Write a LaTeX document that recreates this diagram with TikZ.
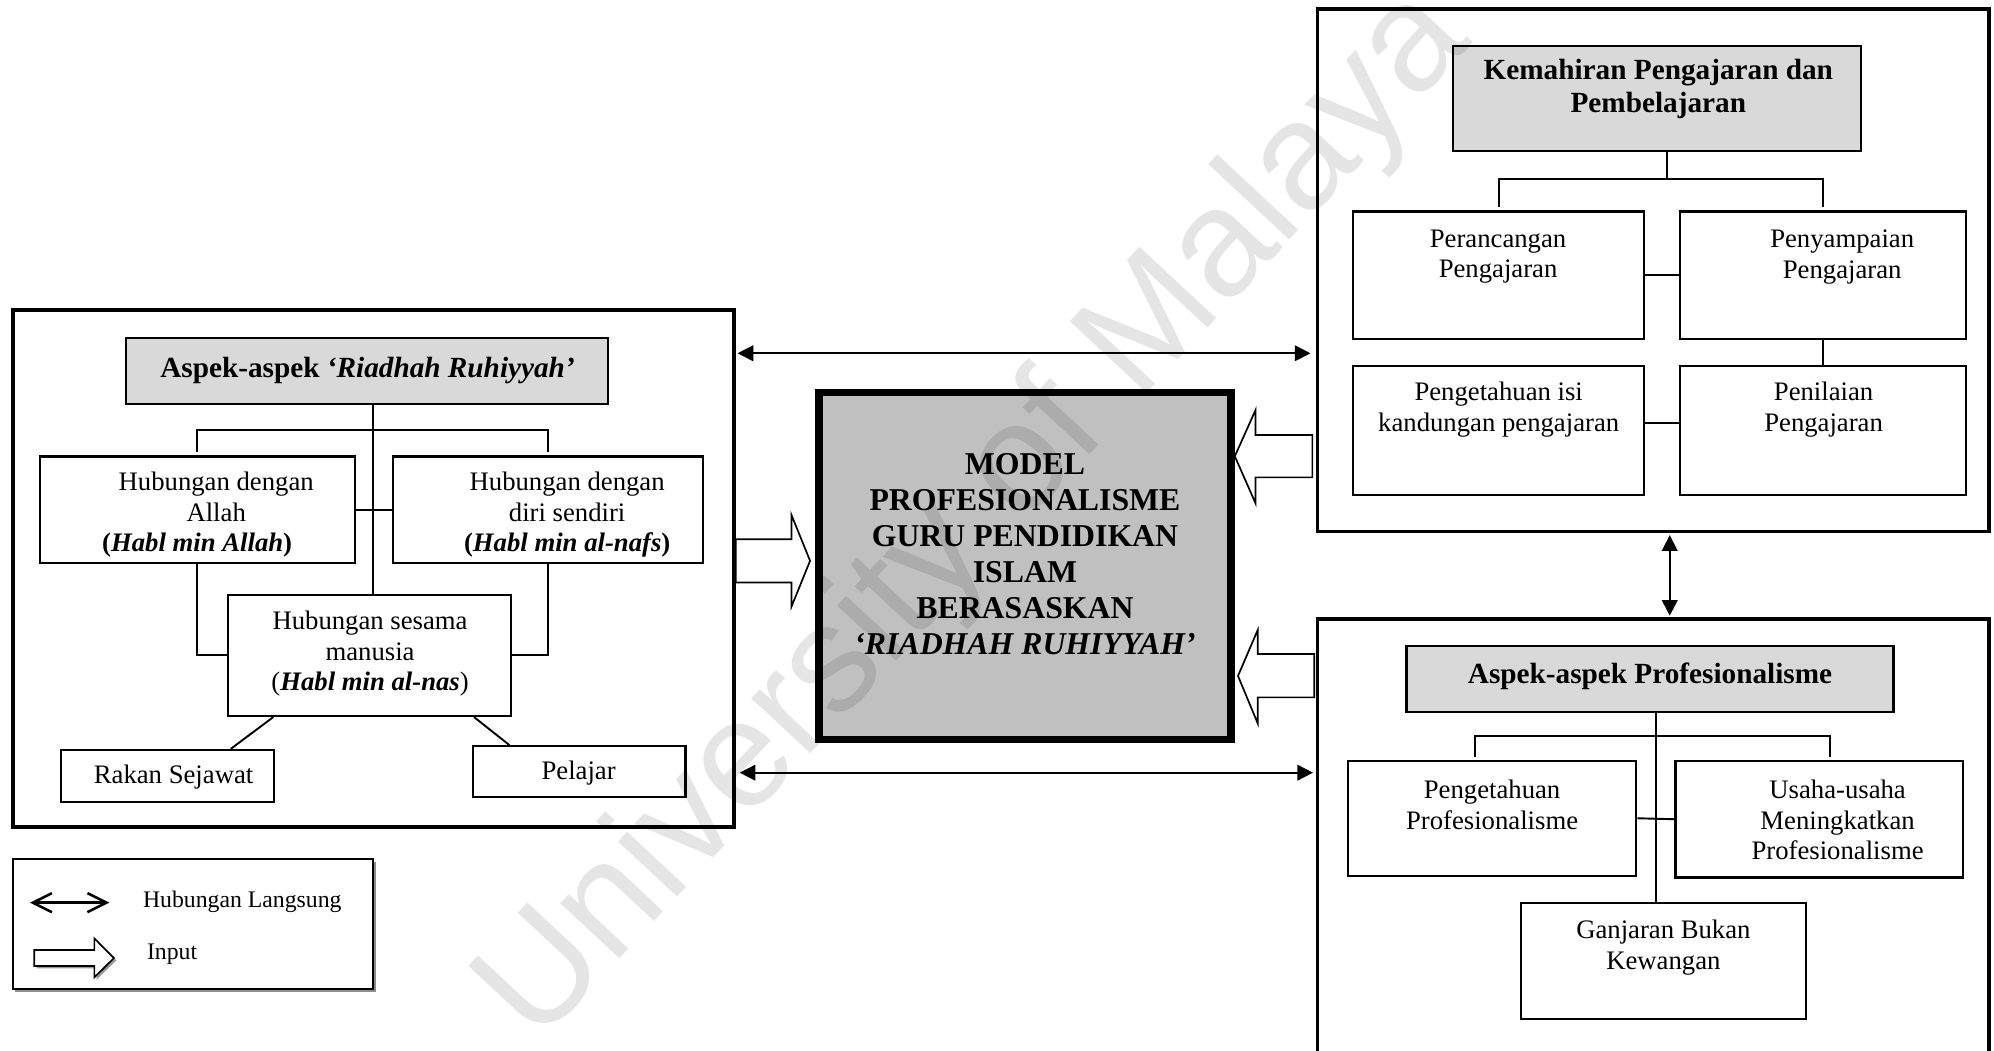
\documentclass[tikz,border=0pt]{standalone}
\usepackage{fontspec}
\setmainfont{Liberation Serif}
\newfontfamily\wmfont{Liberation Sans}
\usetikzlibrary{fit,calc,arrows.meta,shadows}

\definecolor{headgray}{HTML}{D9D9D9}
\definecolor{coregray}{HTML}{C0C0C0}

\newcommand\bodyfont{\fontsize{12.6pt}{14.4pt}\selectfont}
\newcommand\headfont{\fontsize{13.8pt}{15.4pt}\selectfont\bfseries}
\newcommand\corefont{\fontsize{15pt}{17pt}\selectfont\bfseries}
\newcommand\legfont{\fontsize{11.2pt}{13pt}\selectfont}

\tikzset{
  panel/.style={draw, line width=1.8pt, fill=white, inner sep=0pt, fit={#1}},
  headbox/.style={draw, line width=1pt, fill=headgray, inner sep=0pt, fit={#1}},
  itembox/.style={draw, line width=1pt, fill=white, inner sep=0pt, fit={#1}},
  corebox/.style={draw, line width=3.5pt, fill=coregray, inner sep=0pt, fit={#1}},
  legbox/.style={draw, line width=0.9pt, fill=white, inner sep=0pt, fit={#1},
    drop shadow={shadow xshift=1.3pt, shadow yshift=-1.3pt, fill=black!45, opacity=1}},
  bodytxt/.style={align=center, inner sep=0pt, font=\bodyfont},
  headtxt/.style={align=center, inner sep=0pt, font=\headfont},
  coretxt/.style={align=center, inner sep=0pt, font=\corefont},
  legtxt/.style={anchor=west, inner sep=0pt, font=\legfont},
  conn/.style={line width=0.9pt},
  gap/.style={shorten <=1.6pt, shorten >=1.6pt},
  link/.style={line width=0.8pt,
    {Triangle[length=7.4pt,width=7.4pt]}-{Triangle[length=7.4pt,width=7.4pt]}},
  inputarrow/.style={draw, line width=0.8pt, fill=white, line join=miter},
  legarrow/.style={line width=1.2pt,
    {Straight Barb[length=9pt,width=9pt]}-{Straight Barb[length=9pt,width=9pt]}},
}

\begin{document}
\begin{tikzpicture}[x=0.6pt,y=-0.6pt]
\useasboundingbox (0,0) rectangle (1568,826);
\clip (0,0) rectangle (1568,826);

% ---------------- left panel: Riadhah Ruhiyyah
\node[panel={(10,243.5) (577,650)}] (lbox) {};
\node[headbox={(99,266) (478,318)}] (lhead) {};
\node[headtxt] (lhead-t) at (289,291) {Aspek-aspek \textit{‘Riadhah Ruhiyyah’}};

\node[itembox={(31.4,359) (279,443)}] (allah) {};
\node[itembox={(309,359) (552.6,443)}] (nafs) {};
\node[itembox={(179.5,467.6) (401.9,563)}] (nas) {};
\node[itembox={(48,589.7) (215.5,630.4)}] (rakan) {};
\node[itembox={(372,586.7) (539,627)}] (pelajar) {};

\node[bodytxt] (allah-t) at (170,405)
  {Hubungan dengan\\Allah\\\textbf{(\textit{Habl min Allah})}\hspace*{18pt}};
\node[bodytxt] (nafs-t) at (446,405)
  {Hubungan dengan\\diri sendiri\\\textbf{(\textit{Habl min al-nafs})}};
\node[bodytxt] (nas-t) at (291,514)
  {Hubungan sesama\\manusia\\(\textbf{\textit{Habl min al-nas}})};
\node[bodytxt] (rakan-t) at (136.5,611) {Rakan Sejawat};
\node[bodytxt] (pelajar-t) at (455,608) {Pelajar};

\coordinate (lspine) at (293.5,338);
\draw[conn] (lspine |- lhead.south) -- (lspine |- nas.north);
\draw[conn,gap] (allah.north) -- (allah.north |- lspine) -- (nafs.north |- lspine) -- (nafs.north);
\draw[conn] (allah.east) -- (nafs.west);
\draw[conn] (allah.south) |- (nas.west);
\draw[conn] (nafs.south) |- (nas.east);
\draw[conn] ($(nas.south west)!0.162!(nas.south east)$) -- ($(rakan.north west)!0.794!(rakan.north east)$);
\draw[conn] ($(nas.south west)!0.866!(nas.south east)$) -- ($(pelajar.north west)!0.174!(pelajar.north east)$);

% ---------------- right upper panel: teaching skills
\node[panel={(1036,7) (1564,418)}] (rtbox) {};
\node[headbox={(1142.7,36) (1463.3,119)}] (kh) {};
\node[headtxt] (kh-t) at (1304,70) {Kemahiran Pengajaran dan\\Pembelajaran};

\node[itembox={(1064,166.3) (1293,266.7)}] (per) {};
\node[itembox={(1321,166.3) (1546,266.7)}] (pen) {};
\node[itembox={(1064,288) (1293,389)}] (isi) {};
\node[itembox={(1321,288) (1546,389)}] (pnl) {};

\node[bodytxt] (per-t) at (1178,202) {Perancangan\\Pengajaran};
\node[bodytxt] (pen-t) at (1448.6,202) {Penyampaian\\Pengajaran};
\node[bodytxt] (isi-t) at (1178.5,322) {Pengetahuan isi\\kandungan pengajaran};
\node[bodytxt] (pnl-t) at (1434,322) {Penilaian\\Pengajaran};

\coordinate (rspine) at (1311,141);
\draw[conn] (rspine |- kh.south) -- (rspine);
\draw[conn,gap] (per.north) -- (per.north |- rspine) -- (pen.north |- rspine) -- (pen.north);
\draw[conn] (per.east) -- (pen.west);
\draw[conn] (pen.south) -- (pnl.north);
\draw[conn] ([yshift=3.5pt]isi.east) -- ([yshift=3.5pt]pnl.west);

% ---------------- right lower panel: professionalism
\node[panel={(1036,487) (1564,880)}] (rbbox) {};
\node[headbox={(1106,507.7) (1488.9,559.6)}] (ap) {};
\node[headtxt] (ap-t) at (1297.5,532) {Aspek-aspek Profesionalisme};

\node[itembox={(1059.8,598.4) (1286.7,688.5)}] (pp) {};
\node[itembox={(1317.5,598.4) (1543.8,690)}] (uu) {};
\node[itembox={(1195.8,710.3) (1420,801.5)}] (gan) {};

\node[bodytxt] (pp-t) at (1173.3,633) {Pengetahuan\\Profesionalisme};
\node[bodytxt] (uu-t) at (1445,645) {Usaha-usaha\\Meningkatkan\\Profesionalisme};
\node[bodytxt] (gan-t) at (1308,745) {Ganjaran Bukan\\Kewangan};

\coordinate (bspine) at (1302.5,578.8);
\coordinate (bl) at (1160.1,578.8);
\coordinate (br) at (1439.2,578.8);
\draw[conn] (bspine |- ap.south) -- (bspine |- gan.north);
\draw[conn,gap] (bl |- pp.north) -- (bl) -- (br) -- (br |- uu.north);
\draw[conn] (pp.east) -- (uu.west);

% ---------------- central model
\node[corebox={(644,308.5) (968,581.5)}] (core) {};
\node[coretxt] (core-t) at (806,436)
  {MODEL\\PROFESIONALISME\\GURU PENDIDIKAN\\ISLAM\\BERASASKAN\\\textit{‘RIADHAH RUHIYYAH’}};

% ---------------- direct relations
\coordinate (upper) at (0,277.8);
\coordinate (lower) at (0,607.6);
\coordinate (vert) at (1313,0);
\draw[link, shorten <=0.9pt, shorten >=2.4pt] (lbox.east |- upper) -- (rtbox.west |- upper);
\draw[link, shorten <=1.9pt, shorten >=1.2pt] (lbox.east |- lower) -- (rbbox.west |- lower);
\draw[link, shorten <=0.8pt, shorten >=0.8pt] (rtbox.south -| vert) -- (rbbox.north -| vert);

% ---------------- input arrows into the model
\draw[inputarrow] (578.6,424) -- (622.4,424) -- (622.4,405) -- (637,441)
  -- (622.4,477) -- (622.4,458) -- (578.6,458) -- cycle;
\draw[inputarrow] (1032,342) -- (987.3,342) -- (987.3,322.4) -- (971,358.8)
  -- (987.3,395.8) -- (987.3,375.4) -- (1032,375.4) -- cycle;
\draw[inputarrow] (1033.5,514.3) -- (989,514.3) -- (989,495.4) -- (973.5,531.5)
  -- (989,568.8) -- (989,548.4) -- (1033.5,548.4) -- cycle;

% ---------------- legend
\node[legbox={(10,675.7) (293.4,777.9)}] (leg) {};
\coordinate (lg1) at (23.6,709.8);
\coordinate (lg2) at (86,709.8);
\draw[legarrow] (lg1) -- (lg2);
\node[legtxt] (leg-link) at (112.2,709.5) {Hubungan Langsung};
\draw[inputarrow, drop shadow={shadow xshift=1.1pt, shadow yshift=-1.1pt, fill=black!40, opacity=1}]
  (27,747) -- (74.2,747) -- (74.2,737.9) -- (89.6,753.4)
  -- (74.2,768.5) -- (74.2,759.6) -- (27,759.6) -- cycle;
\node[legtxt] (leg-input) at (115.3,750) {Input};

% ---------------- watermark
\node[rotate=47, inner sep=0pt, text opacity=0.1,
  font=\wmfont\fontsize{72pt}{72pt}\selectfont] (wm) at (768,407) {University of Malaya};
\end{tikzpicture}
\end{document}
